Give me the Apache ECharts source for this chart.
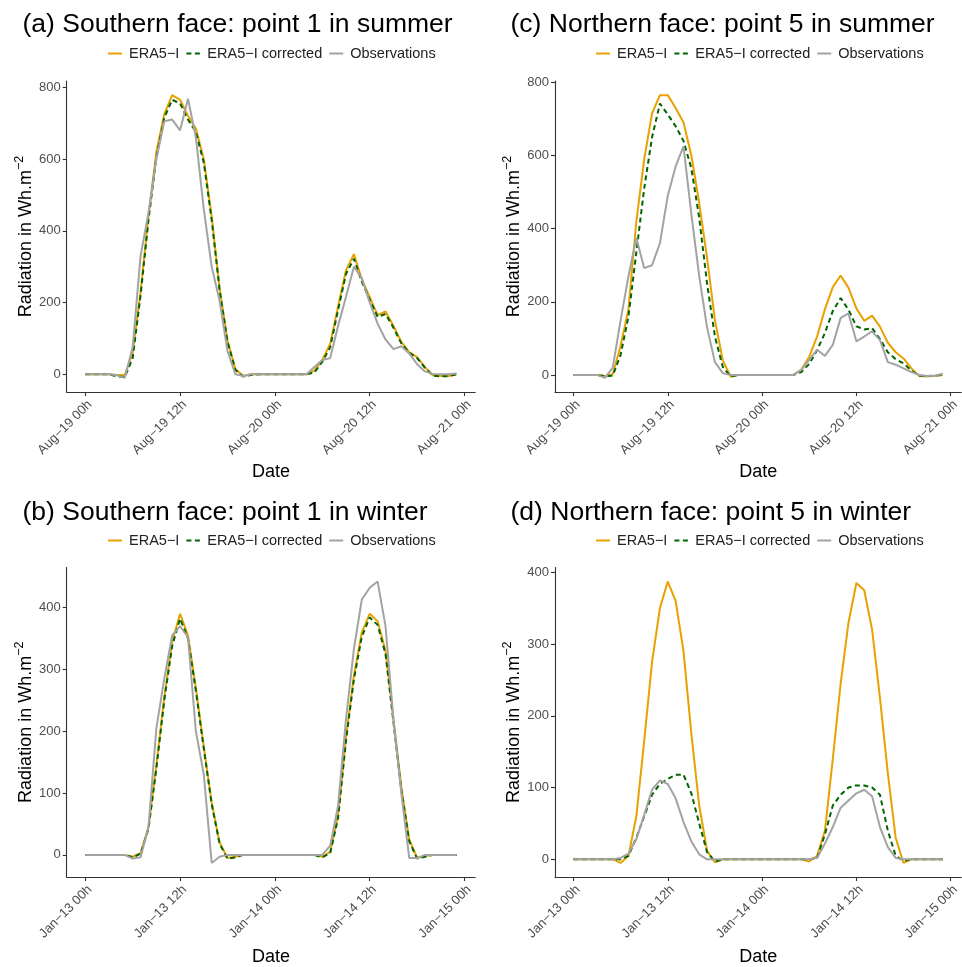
<!DOCTYPE html>
<html><head><meta charset="utf-8">
<script src="https://cdn.jsdelivr.net/npm/echarts@6/dist/echarts.min.js"></script>
<style>html,body{margin:0;padding:0;background:#fff}#c{width:962px;height:967px}</style>
</head><body><div id="c"></div>
<script>
// ---------- data (hourly values, hour 0..47) ----------
const hours = [0,1,2,3,4,5,6,7,8,9,10,11,12,13,14,15,16,17,18,19,20,21,22,23,
               24,25,26,27,28,29,30,31,32,33,34,35,36,37,38,39,40,41,42,43,44,45,46,47];
const tickHours = [0,12,24,36,48];
const summerTicks = ['Aug\u221219 00h','Aug\u221219 12h','Aug\u221220 00h','Aug\u221220 12h','Aug\u221221 00h'];
const winterTicks = ['Jan\u221213 00h','Jan\u221213 12h','Jan\u221214 00h','Jan\u221214 12h','Jan\u221215 00h'];
const yTicksSummer = [0,200,400,600,800];
const yTicksWinter = [0,100,200,300,400];
const seriesNames = ['ERA5\u2212I','ERA5\u2212I corrected','Observations'];

// (a) Southern face, point 1, summer
const A_era = [0,0,0,0,-2,-2,60,230,440,620,725,778,765,720,685,600,440,240,95,15,-5,0,0,0,
               0,0,0,0,0,10,40,85,190,290,335,265,215,165,175,135,90,62,48,20,-3,-5,-5,0];
const A_cor = [0,0,0,0,-6,-8,45,220,430,605,715,765,755,710,675,590,430,235,90,12,-6,-2,0,0,
               0,0,0,0,0,5,35,75,180,280,322,258,208,160,168,130,86,60,45,18,-4,-6,-5,0];
const A_obs = [0,0,0,0,-3,-10,75,330,450,600,705,710,680,768,660,460,300,205,65,0,-5,0,0,0,
               0,0,0,0,0,20,40,45,135,216,300,268,200,141,97,70,78,58,28,8,1,0,0,2];
// (b) Southern face, point 1, winter
const B_era = [0,0,0,0,0,0,-3,3,45,145,255,345,390,355,270,175,85,20,-5,-3,0,0,0,0,
               0,0,0,0,0,0,-3,5,65,190,290,360,390,378,330,220,110,25,-5,-2,0,0,0,0];
const B_cor = [0,0,0,0,0,0,-4,2,42,140,250,338,382,350,265,172,82,18,-6,-4,0,0,0,0,
               0,0,0,0,0,0,-4,3,60,185,284,353,384,372,325,215,105,22,-6,-3,0,0,0,0];
const B_obs = [0,0,0,0,0,0,-6,-4,45,205,285,355,370,352,200,130,-13,-3,0,0,0,0,0,0,
               0,0,0,0,0,0,0,15,80,220,333,413,432,442,370,220,100,-5,-5,0,0,0,0,0];
// (c) Northern face, point 5, summer
const C_era = [0,0,0,0,-3,2,80,180,420,590,715,765,765,730,690,600,470,320,150,40,-5,0,0,0,
               0,0,0,0,0,15,50,105,180,240,272,238,182,148,162,132,88,62,45,18,-3,-4,-2,0];
const C_cor = [0,0,0,0,-3,-2,55,160,335,510,650,742,712,680,640,565,430,250,105,22,-4,0,0,0,
               0,0,0,0,0,8,30,68,115,175,210,178,133,124,128,98,62,43,32,12,-2,-3,-2,0];
const C_obs = [0,0,0,0,-8,20,150,270,375,292,300,360,490,570,625,440,270,130,35,5,0,0,0,0,
               0,0,0,0,0,14,41,69,52,82,156,168,92,105,119,95,35,28,18,8,0,-3,-2,3];
// (d) Northern face, point 5, winter
const D_era = [0,0,0,0,0,0,-5,5,60,165,275,350,387,360,290,175,75,12,-4,0,0,0,0,0,
               0,0,0,0,0,0,-3,5,40,140,245,330,385,375,320,225,120,30,-5,0,0,0,0,0];
const D_cor = [0,0,0,0,0,0,0,5,30,60,90,105,112,118,118,92,50,10,-3,0,0,0,0,0,
               0,0,0,0,0,0,0,2,35,75,90,100,103,103,100,90,40,5,-2,0,0,0,0,0];
const D_obs = [0,0,0,0,0,0,2,8,28,62,97,110,105,85,52,25,7,0,0,0,0,0,0,0,
               0,0,0,0,0,0,0,2,22,45,72,82,92,97,88,45,17,2,0,0,0,0,0,0];

// ---------- layout / style ----------
const FONT = '"Liberation Sans", Arial, Helvetica, sans-serif';
const colors = ['#E9A100', '#006400', '#A3A3A3'];
const panels = [
  {title:'(a) Southern face: point 1 in summer', data:[A_era,A_cor,A_obs], xt:summerTicks, yt:yTicksSummer,
   grid:{left:66.7, top:81, width:408.5, height:311}, tx:22.5, ty:11, lx:107, ly:46},
  {title:'(c) Northern face: point 5 in summer', data:[C_era,C_cor,C_obs], xt:summerTicks, yt:yTicksSummer,
   grid:{left:555, top:81, width:409, height:311}, tx:510.5, ty:11, lx:595, ly:46},
  {title:'(b) Southern face: point 1 in winter', data:[B_era,B_cor,B_obs], xt:winterTicks, yt:yTicksWinter,
   grid:{left:66.7, top:567.5, width:408.5, height:312}, tx:22.5, ty:499, lx:107, ly:533},
  {title:'(d) Northern face: point 5 in winter', data:[D_era,D_cor,D_obs], xt:winterTicks, yt:yTicksWinter,
   grid:{left:555, top:567.5, width:409, height:312}, tx:510.5, ty:499, lx:595, ly:533}
];

function range(arrs){
  let lo = Infinity, hi = -Infinity;
  arrs.forEach(a => a.forEach(v => { lo = Math.min(lo, v); hi = Math.max(hi, v); }));
  const e = (hi - lo) * 0.05;
  return [lo - e, hi + e];
}

const option = {
  animation: false,
  backgroundColor: '#fff',
  textStyle: {fontFamily: FONT},
  title: [], legend: [], grid: [], xAxis: [], yAxis: [], series: []
};

panels.forEach((p, i) => {
  option.title.push({text: p.title, left: p.tx, top: p.ty, padding: 0,
    textStyle: {fontFamily: FONT, fontSize: 26.5, fontWeight: 'normal', color: '#000'}});
  option.legend.push({left: p.lx, top: p.ly, padding: 0, itemWidth: 14, itemHeight: 12, itemGap: 6,
    itemStyle: {opacity: 0},
    data: seriesNames, textStyle: {fontFamily: FONT, fontSize: 14.5, color: '#222', padding: [0,0,0,2]}});
  option.grid.push(Object.assign({containLabel: false}, p.grid));
  const yr = range(p.data);
  option.xAxis.push({
    gridIndex: i, type: 'value', min: -2.35, max: 49.35,
    axisLine: {show: true, onZero: false, lineStyle: {color: '#333', width: 1.1}},
    axisTick: {show: true, length: 4, customValues: tickHours, lineStyle: {color: '#333', width: 1.1}},
    axisLabel: {customValues: tickHours, rotate: 45, fontSize: 13, color: '#4D4D4D', margin: 6, fontFamily: FONT,
      align: 'right', verticalAlign: 'top',
      formatter: v => p.xt[tickHours.indexOf(v)]},
    splitLine: {show: false},
    name: 'Date', nameLocation: 'middle', nameGap: 71,
    nameTextStyle: {fontSize: 18, color: '#000', fontFamily: FONT}
  });
  option.yAxis.push({
    gridIndex: i, type: 'value', min: yr[0], max: yr[1],
    axisLine: {show: true, onZero: false, lineStyle: {color: '#333', width: 1.1}},
    axisTick: {show: true, length: 4, customValues: p.yt, lineStyle: {color: '#333', width: 1.1}},
    axisLabel: {customValues: p.yt, fontSize: 13, color: '#4D4D4D', margin: 6, fontFamily: FONT},
    splitLine: {show: false},
    name: 'Radiation in Wh.m{sup|\u22122}', nameLocation: 'middle', nameGap: 25, nameRotate: 90,
    nameTextStyle: {fontSize: 18, color: '#000', fontFamily: FONT,
      rich: {sup: {fontSize: 12.5, color: '#000', fontFamily: FONT, padding: [0,0,14,0], verticalAlign: 'top'}}}
  });
  p.data.forEach((arr, k) => {
    option.series.push({
      name: seriesNames[k], type: 'line', xAxisIndex: i, yAxisIndex: i,
      data: hours.map((h, j) => [h, arr[j]]),
      showSymbol: false, symbol: 'none', smooth: false, clip: true,
      color: colors[k],
      lineStyle: {color: colors[k], width: 2, type: k === 1 ? [5, 3.5] : 'solid'},
      z: 2 + k
    });
  });
});

const chart = echarts.init(document.getElementById('c'), null, {renderer: 'canvas'});
chart.setOption(option);
</script></body></html>
